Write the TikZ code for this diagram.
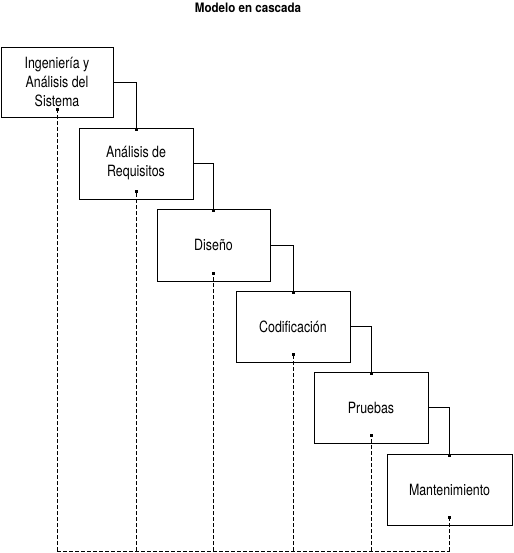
\documentclass[tikz,border=0pt]{standalone}
\usepackage{fontspec}
\setmainfont{TeX Gyre Heros}[FakeStretch=0.8]
\newfontfamily\titlefont{TeX Gyre Heros}[FakeStretch=0.89]
\usetikzlibrary{arrows.meta}
\begin{document}
\begin{tikzpicture}[x=1pt,y=-1pt,
  stage/.style={draw, line width=0.9pt, inner sep=0pt, align=center,
    font=\fontsize{15.5}{19}\selectfont},
  link/.style={line width=0.9pt, -{Square[length=3pt,width=3pt]}},
  back/.style={line width=0.8pt, dash pattern=on 4pt off 2pt}]
\useasboundingbox (0,0) rectangle (513,553);
\node[font=\titlefont\bfseries\fontsize{13}{15}\selectfont] (title) at (248,7.5) {Modelo en cascada};
\node[stage, minimum width=112pt, minimum height=70pt] (b1) at (57,82) {Ingeniería y\\Análisis del\\Sistema};
\node[stage, minimum width=114pt, minimum height=71pt] (b2) at (136,163.5) {Análisis de\\Requisitos};
\node[stage, minimum width=113pt, minimum height=72pt] (b3) at (213.5,245) {Diseño};
\node[stage, minimum width=114pt, minimum height=71pt] (b4) at (293,326.5) {Codificación};
\node[stage, minimum width=114pt, minimum height=71pt] (b5) at (371,407.5) {Pruebas};
\node[stage, minimum width=125pt, minimum height=71pt] (b6) at (449.5,489.5) {Mantenimiento};
\foreach \a/\b in {b1/b2,b2/b3,b3/b4,b4/b5,b5/b6}
  \draw[link] (\a.east) -| ([yshift=-3pt]\b.north);
\coordinate (bot) at (0,551);
\foreach \a in {b1,b2,b3,b4,b5,b6}
  \coordinate (s\a) at ([yshift=8pt]\a.south);
\draw[back] (sb1 |- bot) -- (sb6 |- bot);
\foreach \a in {b1,b2,b3,b4,b5,b6}{
  \draw[back] (s\a |- bot) -- (s\a);
  \fill ([xshift=-1.5pt,yshift=-1.5pt]s\a) rectangle ([xshift=1.5pt,yshift=1.5pt]s\a);
}
\end{tikzpicture}
\end{document}
